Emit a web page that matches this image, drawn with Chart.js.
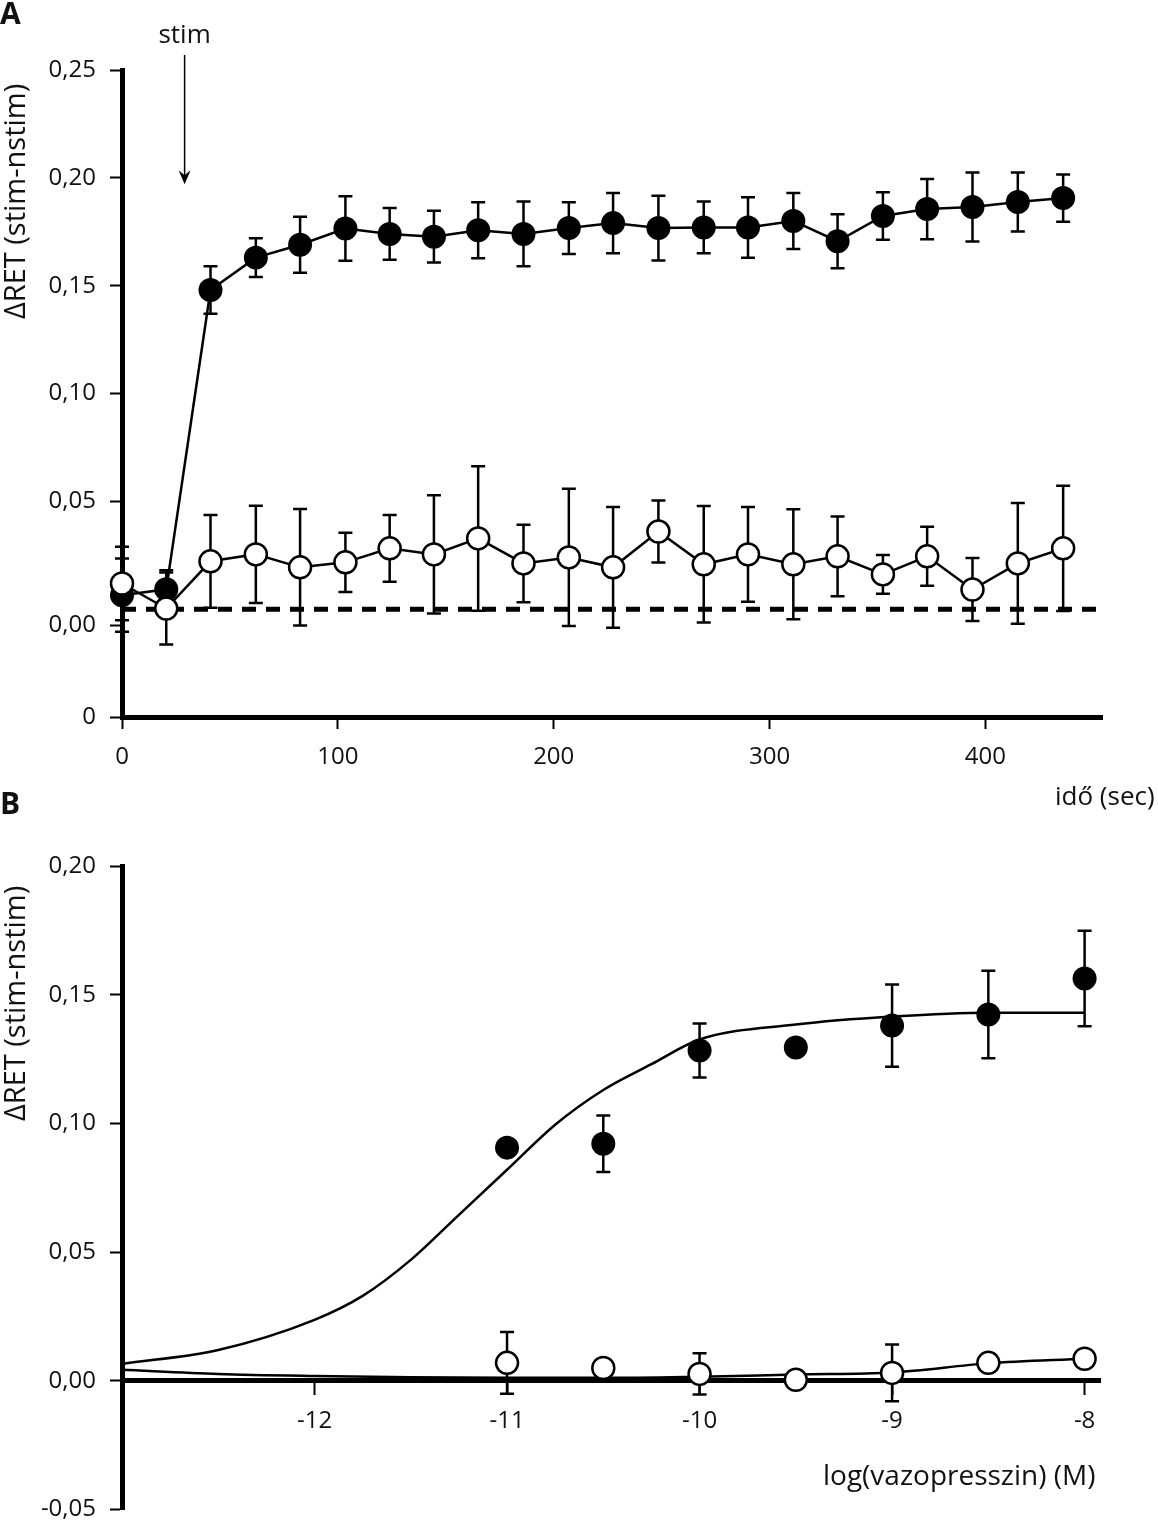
<!DOCTYPE html>
<html>
<head>
<meta charset="utf-8">
<script src="https://cdn.jsdelivr.net/npm/chart.js@4.4.1/dist/chart.umd.min.js"></script>
<style>
  body { margin: 0; background: #fff; font-family: "Open Sans", sans-serif; color: #111; }
  #page { position: relative; width: 1158px; height: 1522px; overflow: hidden; }
  canvas { position: absolute; left: 0; }
  .lbl { position: absolute; white-space: nowrap; font-size: 26px; }
  .panel { font-weight: bold; font-size: 30px; }
  .ytitle { transform: rotate(-90deg); transform-origin: left top; font-size: 29px; }
</style>
</head>
<body>
<div id="page">
  <canvas id="chartA" width="1158" height="770" style="top:0"></canvas>
  <canvas id="chartB" width="1158" height="758" style="top:780px"></canvas>
  <div class="lbl panel" style="left:0;top:-8px">A</div>
  <div class="lbl panel" style="left:0;top:782px">B</div>
  <div class="lbl ytitle" style="left:-6px;top:319px">ΔRET (stim-nstim)</div>
  <div class="lbl ytitle" style="left:-6px;top:1121px">ΔRET (stim-nstim)</div>
  <div class="lbl" style="left:1055px;top:777px">idő (sec)</div>
  <div class="lbl" style="left:823px;top:1455px;font-size:28px">log(vazopresszin) (M)</div>
</div>
<script>
// Panel A - time course
const timeA = [0, 20.5, 41, 62, 82.5, 103.5, 124, 144.5, 165, 186, 207, 227.5, 248.5, 269.5, 290, 311, 331.5, 352.5, 373, 394, 415, 436];
const filledA = [0.0065, 0.0092, 0.148, 0.163, 0.169, 0.1765, 0.174, 0.1727, 0.1757, 0.174, 0.1767, 0.179, 0.1767, 0.177, 0.177, 0.180, 0.1706, 0.1823, 0.1855, 0.1865, 0.1888, 0.1906];
const filledErrA = [0.017, 0.0088, 0.011, 0.009, 0.013, 0.015, 0.012, 0.012, 0.013, 0.015, 0.012, 0.014, 0.015, 0.012, 0.014, 0.013, 0.0125, 0.011, 0.014, 0.016, 0.0137, 0.011];
const openA = [0.0119, 0.0003, 0.0222, 0.0254, 0.0194, 0.0217, 0.0282, 0.0254, 0.0328, 0.0212, 0.024, 0.0194, 0.036, 0.0208, 0.0254, 0.0208, 0.0245, 0.0161, 0.0245, 0.0091, 0.0212, 0.0282];
const openErrA = [0.017, 0.0167, 0.0215, 0.0225, 0.027, 0.0137, 0.0155, 0.0274, 0.0335, 0.018, 0.0318, 0.028, 0.0144, 0.027, 0.022, 0.0255, 0.0185, 0.009, 0.0137, 0.0146, 0.028, 0.029];
const baselineA = [0, 0];
const baselineTimeA = [0, 454];
const yTickValuesA = [-0.05, -0.0075, 0.05, 0.10, 0.15, 0.20, 0.25];
const yTickLabelsA = ['0', '0,00', '0,05', '0,10', '0,15', '0,20', '0,25'];
const xTicksA = [0, 100, 200, 300, 400];
const stimTime = 29;

// Panel B - dose response
const doseB = [-11, -10.5, -10, -9.5, -9, -8.5, -8];
const filledB = [0.0906, 0.0921, 0.1283, 0.1295, 0.138, 0.1423, 0.1563];
const filledErrB = [0, 0.011, 0.0105, 0, 0.016, 0.017, 0.0185];
const openB = [0.007, 0.005, 0.0027, 0.0004, 0.0031, 0.007, 0.0086];
const openErrB = [0.012, 0, 0.008, 0, 0.011, 0, 0];
const fitDoseB = [-13, -12.5, -12, -11.75, -11.5, -11.25, -11, -10.75, -10.5, -10.25, -10, -9.5, -9, -8.5, -8];
const fitFilledB = [0.0066, 0.012, 0.0237, 0.033, 0.047, 0.0645, 0.082, 0.0995, 0.113, 0.123, 0.1326, 0.1384, 0.1415, 0.143, 0.143];
const fitOpenDoseB = [-13, -12.5, -12, -11.5, -11, -10.5, -10, -9.5, -9, -8.5, -8];
const fitOpenB = [0.0043, 0.0027, 0.0019, 0.0014, 0.0012, 0.0012, 0.0016, 0.0025, 0.0033, 0.0068, 0.0086];
const yTickValuesB = [-0.05, 0, 0.05, 0.10, 0.15, 0.20];
const yTickLabelsB = ['-0,05', '0,00', '0,05', '0,10', '0,15', '0,20'];
const xTicksB = [-12, -11, -10, -9, -8];

const FONT = { family: '"Open Sans", sans-serif', size: 24 };
const pts = (xs, ys) => xs.map((x, i) => ({ x: x, y: ys[i] }));

const errorBars = {
  id: 'errorBars',
  beforeDatasetsDraw(chart) {
    const ctx = chart.ctx;
    const xs = chart.scales.x, ys = chart.scales.y;
    ctx.save();
    ctx.strokeStyle = '#000';
    ctx.lineWidth = 2.5;
    chart.data.datasets.forEach(ds => {
      if (!ds.errors) return;
      ds.data.forEach((p, i) => {
        const e = ds.errors[i];
        if (!e) return;
        const px = xs.getPixelForValue(p.x);
        const top = ys.getPixelForValue(p.y + e);
        const bot = ys.getPixelForValue(p.y - e);
        ctx.beginPath();
        ctx.moveTo(px, top); ctx.lineTo(px, bot);
        ctx.moveTo(px - 7, top); ctx.lineTo(px + 7, top);
        ctx.moveTo(px - 7, bot); ctx.lineTo(px + 7, bot);
        ctx.stroke();
      });
    });
    ctx.restore();
  }
};

const stimArrow = {
  id: 'stimArrow',
  afterDraw(chart) {
    const ctx = chart.ctx;
    const px = chart.scales.x.getPixelForValue(stimTime);
    const tip = chart.scales.y.getPixelForValue(0.197);
    const start = chart.chartArea.top - 15;
    ctx.save();
    ctx.strokeStyle = '#000';
    ctx.fillStyle = '#000';
    ctx.lineWidth = 1.5;
    ctx.beginPath();
    ctx.moveTo(px, start); ctx.lineTo(px, tip - 4);
    ctx.stroke();
    ctx.beginPath();
    ctx.moveTo(px, tip);
    ctx.lineTo(px - 6, tip - 14);
    ctx.lineTo(px, tip - 9);
    ctx.lineTo(px + 6, tip - 14);
    ctx.closePath();
    ctx.fill();
    ctx.font = '26px "Open Sans", sans-serif';
    ctx.fillStyle = '#111';
    ctx.textAlign = 'center';
    ctx.textBaseline = 'middle';
    ctx.fillText('stim', px, start - 19);
    ctx.restore();
  }
};

function axisCommon(tickValues, tickLabels) {
  return {
    afterBuildTicks: s => { s.ticks = tickValues.map(v => ({ value: v })); },
    ticks: {
      color: '#111', font: FONT, padding: 14,
      callback: v => tickLabels ? tickLabels[tickValues.indexOf(v)] : String(v)
    },
    border: { display: true, color: '#000', width: 5 },
    grid: { drawOnChartArea: false, drawTicks: true, tickLength: 12, tickWidth: 2, tickColor: '#000', color: '#000' }
  };
}

new Chart(document.getElementById('chartA'), {
  type: 'line',
  data: {
    datasets: [
      { data: pts(timeA, openA), errors: openErrA, borderColor: '#000', borderWidth: 2.5,
        pointRadius: 11, pointBorderWidth: 2.5, pointBackgroundColor: '#fff', pointBorderColor: '#000', clip: false },
      { data: pts(timeA, filledA), errors: filledErrA, borderColor: '#000', borderWidth: 2.5,
        pointRadius: 12, pointBorderWidth: 0, pointBackgroundColor: '#000', pointBorderColor: '#000', clip: false },
      { data: pts(baselineTimeA, baselineA), borderColor: '#000', borderWidth: 5, borderDash: [14, 10],
        pointRadius: 0, clip: false }
    ]
  },
  options: {
    responsive: false, animation: false,
    layout: { padding: { left: 0, top: 70, right: 56, bottom: 0 } },
    plugins: { legend: { display: false }, tooltip: { enabled: false } },
    scales: {
      x: Object.assign(axisCommon(xTicksA, null), {
        type: 'linear', min: 0, max: 454,
        afterFit: s => { s.height = 53; }
      }),
      y: Object.assign(axisCommon(yTickValuesA, yTickLabelsA), {
        type: 'linear', min: -0.05, max: 0.25,
        afterFit: s => { s.width = 122; }
      })
    }
  },
  plugins: [errorBars, stimArrow]
});

new Chart(document.getElementById('chartB'), {
  type: 'line',
  data: {
    datasets: [
      { data: pts(doseB, openB), errors: openErrB, showLine: false,
        pointRadius: 11, pointBorderWidth: 2.5, pointBackgroundColor: '#fff', pointBorderColor: '#000', clip: false },
      { data: pts(doseB, filledB), errors: filledErrB, showLine: false,
        pointRadius: 12, pointBorderWidth: 0, pointBackgroundColor: '#000', pointBorderColor: '#000', clip: false },
      { data: pts(fitDoseB, fitFilledB), borderColor: '#000', borderWidth: 2.5, cubicInterpolationMode: 'monotone',
        pointRadius: 0, clip: false },
      { data: pts(fitOpenDoseB, fitOpenB), borderColor: '#000', borderWidth: 2.5, cubicInterpolationMode: 'monotone',
        pointRadius: 0, clip: false }
    ]
  },
  options: {
    responsive: false, animation: false,
    layout: { padding: { left: 0, top: 86, right: 58, bottom: 1 } },
    plugins: { legend: { display: false }, tooltip: { enabled: false } },
    scales: {
      x: Object.assign(axisCommon(xTicksB, null), {
        type: 'linear', min: -13, max: -7.92, position: { y: 0 },
        ticks: { color: '#111', font: FONT, padding: 14 }
      }),
      y: Object.assign(axisCommon(yTickValuesB, yTickLabelsB), {
        type: 'linear', min: -0.05, max: 0.20,
        afterFit: s => { s.width = 122; }
      })
    }
  },
  plugins: [errorBars]
});
</script>
</body>
</html>
